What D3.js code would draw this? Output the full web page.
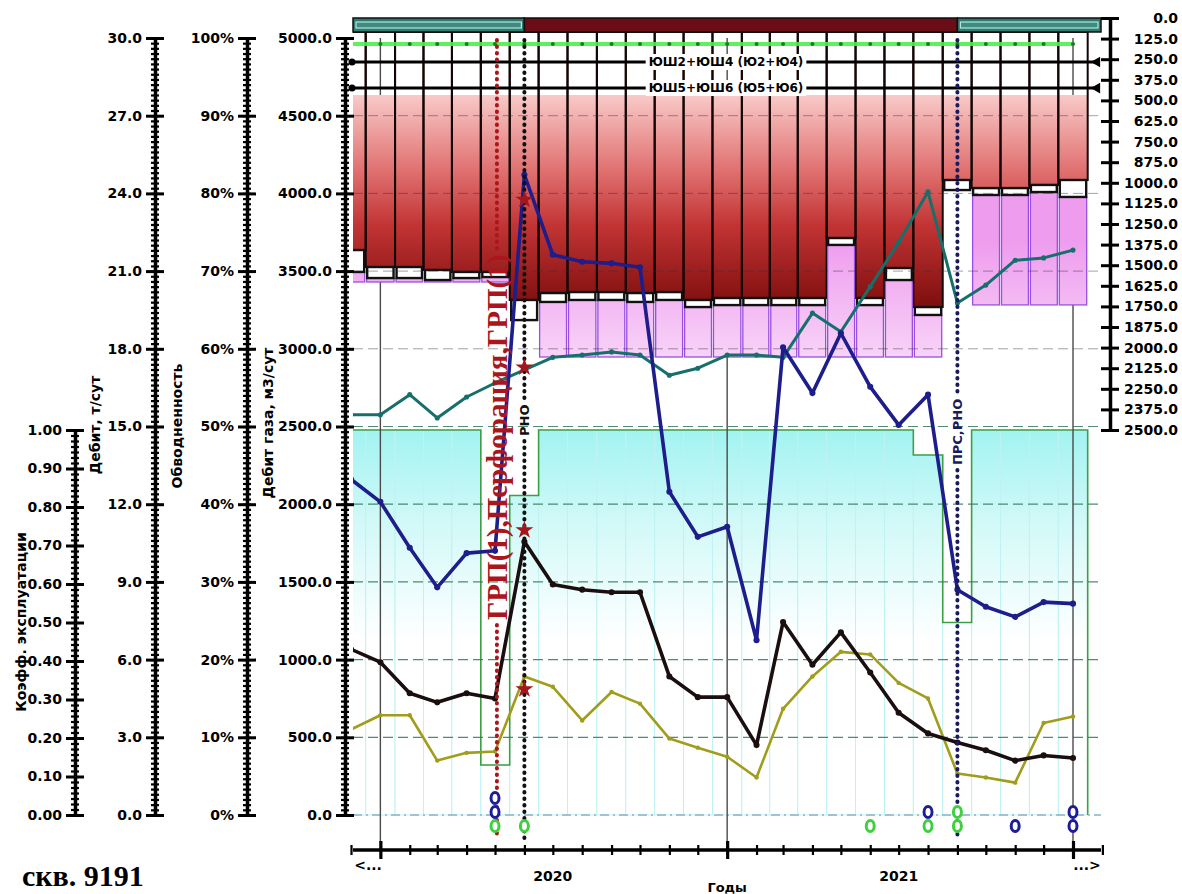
<!DOCTYPE html>
<html>
<head>
<meta charset="utf-8">
<script src="https://d3js.org/d3.v7.min.js"></script>
<style>
  body { margin: 0; background: #fff; }
  svg { display: block; font-family: "DejaVu Sans", sans-serif; }
</style>
</head>
<body>
<div id="chart"></div>
<script>
// ---- data ----
const months = ["2019-12","2020-01","2020-02","2020-03","2020-04","2020-05","2020-06","2020-07","2020-08",
  "2020-09","2020-10","2020-11","2020-12","2021-01","2021-02","2021-03","2021-04","2021-05","2021-06",
  "2021-07","2021-08","2021-09","2021-10","2021-11","2021-12","2022-01"];

const gasRate    = [2160, 2015, 1720, 1465, 1685, 1700, 4120, 3605, 3560, 3550, 3525, 2080, 1790,
                    1855, 1125, 3010, 2715, 3100, 2755, 2510, 2705, 1450, 1340, 1275, 1370, 1360];   // м3/сут
const liquidRate = [6.4, 5.9, 4.7, 4.35, 4.7, 4.5, 10.55, 8.9, 8.7, 8.6, 8.6, 5.35, 4.55,
                    4.55, 2.7, 7.45, 5.8, 7.05, 5.5, 3.95, 3.15, 2.8, 2.5, 2.1, 2.3, 2.2];         // т/сут
const oilRate    = [3.3, 3.85, 3.85, 2.1, 2.4, 2.45, 5.35, 4.95, 3.65, 4.75, 4.3, 2.95, 2.6,
                    2.25, 1.45, 4.1, 5.35, 6.3, 6.2, 5.1, 4.5, 1.6, 1.45, 1.25, 3.55, 3.8];          // т/сут
const waterCut   = [51.5, 51.5, 54.1, 51.1, 53.8, 55.6, 57.3, 58.9, 59.2, 59.6, 59.2, 56.6, 57.5,
                    59.2, 59.2, 58.9, 64.6, 62.2, 68.0, 73.7, 80.2, 65.9, 68.2, 71.4, 71.7, 72.7];   // %
const kExpl      = [1, 1, 1, 1, 1, 0.13, 0.83, 1, 1, 1, 1, 1, 1,
                    1, 1, 1, 1, 1, 1, 1, 0.935, 0.5, 1, 1, 1, 1];

// right (reversed) axis: column levels
const columnTop    = [467, 467, 467, 467, 467, 467, 467, 467, 467, 467, 467, 467, 467,
                      467, 467, 467, 467, 467, 467, 467, 467, 467, 467, 467, 467, 467];
const redBottom    = [1408, 1511, 1511, 1529, 1541, 1541, 1711, 1669, 1663, 1663, 1669, 1663, 1711,
                      1699, 1699, 1699, 1699, 1335, 1699, 1517, 1754, 983, 1032, 1032, 1013, 983];
const boxBottom    = [1541, 1578, 1578, 1590, 1578, 1572, 1833, 1723, 1711, 1711, 1723, 1711, 1754,
                      1742, 1742, 1742, 1742, 1377, 1742, 1590, 1802, 1044, 1074, 1074, 1056, 1086];
const violetBottom = [1602, 1602, 1602, 1602, 1602, 1602, 1833, 2057, 2057, 2057, 2057, 2057, 2057,
                      2057, 2057, 2057, 2057, 2057, 2057, 2057, 2057, 1044, 1741, 1741, 1741, 1741];
const greenLevel   = [158, 158, 158, 158, 158, 158, 158, 158, 158, 158, 158, 158, 158,
                      158, 158, 158, 158, 158, 158, 158, 158, 158, 158, 158, 158, 158];
const levelLines = [{ label: "ЮШ2+ЮШ4 (Ю2+Ю4)", depth: 267 }, { label: "ЮШ5+ЮШ6 (Ю5+Ю6)", depth: 425 }];

const bandSegments = [
  { from: "2019-12-01", to: "2020-06-01", kind: "teal" },
  { from: "2020-06-01", to: "2021-09-01", kind: "red" },
  { from: "2021-09-01", to: "2022-02-01", kind: "teal" }];

const events = [
  { date: "2020-05-03", label: "ГРП(1),Перфорация,ГРП(1)", color: "#aa161b", at: 2430, serif: true },
  { date: "2020-06-01", label: "РНО", color: "#111", at: 2540, serif: false },
  { date: "2021-09-01", label: "ПРС,РНО", color: "#1b1b5c", at: 2465, serif: false }];

const starMonth = "2020-06";
const starValues = { gas: 3960, cut: 57.6, liq: 11.0, oil: 4.86 };

const blueMarks  = [["2020-05", 1], ["2020-05", 2], ["2021-08", 1], ["2021-11", 0], ["2022-01", 1], ["2022-01", 0]];
const greenMarks = [["2020-05", 0], ["2020-06", 0], ["2021-06", 0], ["2021-08", 0], ["2021-09", 1], ["2021-09", 0]];

const gasTicks   = d3.range(0, 5001, 500);
const liqTicks   = d3.range(0, 30.01, 3);
const cutTicks   = d3.range(0, 101, 10);
const kTicks     = d3.range(0, 1.001, 0.1);
const rightTicks = d3.range(0, 2501, 125);
const yearLabels = [{ year: "2020", mid: "2020-07-01" }, { year: "2021", mid: "2021-07-01" }];

// ---- setup ----
const W = 1182, H = 894;
const svg = d3.select("#chart").append("svg").attr("width", W).attr("height", H);
const parseM = d3.utcParse("%Y-%m");
const parseD = d3.utcParse("%Y-%m-%d");
const dates = months.map(parseM);

const plotL = 353, plotR = 1101;
const x = d3.scaleUtc().domain([parseM("2019-12"), parseM("2022-01")]).range([351, 1073]);
const yGas = d3.scaleLinear().domain([0, 5000]).range([815, 38]);
const yLiq = d3.scaleLinear().domain([0, 30]).range([815, 38]);
const yCut = d3.scaleLinear().domain([0, 100]).range([815, 38]);
const yK   = d3.scaleLinear().domain([0, 1]).range([815, 430]);
const yR   = d3.scaleLinear().domain([0, 2500]).range([18, 430]);
const yRow = d3.scaleLinear().domain([0, 2]).range([826, 798]);

const xs = dates.map(d => x(d));
const bounds = xs.map((v, i) => {
  const prev = i > 0 ? xs[i - 1] : v - (xs[1] - xs[0]);
  const next = i < xs.length - 1 ? xs[i + 1] : v + (v - xs[i - 1]);
  return [(prev + v) / 2, (v + next) / 2];
});

const defs = svg.append("defs");
defs.append("clipPath").attr("id", "plotClip").append("rect")
  .attr("x", plotL).attr("y", 10).attr("width", plotR - plotL).attr("height", 840);

function vGrad(id, y1, y2, stops) {
  const g = defs.append("linearGradient").attr("id", id).attr("gradientUnits", "userSpaceOnUse")
    .attr("x1", 0).attr("x2", 0).attr("y1", y1).attr("y2", y2);
  stops.forEach(s => g.append("stop").attr("offset", s[0]).attr("stop-color", s[1]));
}
vGrad("redGrad", 95, 312, [[0, "#f8cac8"], [0.35, "#e07070"], [0.6, "#c23434"], [1, "#7a0b0b"]]);
vGrad("violetGrad", 240, 360, [[0, "#ee9cee"], [1, "#f8d4f8"]]);
vGrad("cyanGrad", 430, 640, [[0, "#a2f3f1"], [0.45, "#d2f9f8"], [1, "#ffffff"]]);

const plot = svg.append("g").attr("clip-path", "url(#plotClip)");

// ---- коэфф. эксплуатации area ----
plot.append("g").selectAll("rect").data(kExpl).join("rect")
  .attr("x", (d, i) => bounds[i][0]).attr("width", (d, i) => bounds[i][1] - bounds[i][0])
  .attr("y", d => yK(d)).attr("height", d => yK(0) - yK(d))
  .attr("fill", "url(#cyanGrad)").attr("stroke", "#bff2f2").attr("stroke-width", 1);

const stepPts = kExpl.map((d, i) => [bounds[i][0], yK(d)]);
stepPts.push([bounds[kExpl.length - 1][1], yK(kExpl[kExpl.length - 1])]);
stepPts.push([bounds[kExpl.length - 1][1], yK(0)]);
plot.append("path").attr("d", d3.line().curve(d3.curveStepAfter)(stepPts))
  .attr("fill", "none").attr("stroke", "#3e9e46").attr("stroke-width", 1.6);

// lower grid
plot.append("g").selectAll("line").data(gasTicks.filter(v => v > 0 && v <= 2500)).join("line")
  .attr("x1", plotL).attr("x2", plotR).attr("y1", d => yGas(d)).attr("y2", d => yGas(d))
  .attr("stroke", "#2f7a5c").attr("stroke-width", 1.2).attr("stroke-dasharray", "10,5").attr("opacity", 0.85);
plot.append("line").attr("x1", plotL).attr("x2", plotR).attr("y1", yGas(0)).attr("y2", yGas(0))
  .attr("stroke", "#86b4c4").attr("stroke-width", 1.3).attr("stroke-dasharray", "9,4,2,4");

// year lines
const yearBounds = [parseM("2020-01"), parseM("2021-01"), parseM("2022-01")];
plot.append("g").selectAll("line").data(yearBounds).join("line")
  .attr("x1", d => x(d)).attr("x2", d => x(d)).attr("y1", 38).attr("y2", 850)
  .attr("stroke", "#4a4a4a").attr("stroke-width", 1.4);

// ---- columns (right axis) ----
const cols = plot.append("g");
cols.selectAll(".red").data(months).join("rect").attr("class", "red")
  .attr("x", (d, i) => bounds[i][0]).attr("width", (d, i) => bounds[i][1] - bounds[i][0])
  .attr("y", (d, i) => yR(columnTop[i])).attr("height", (d, i) => yR(redBottom[i]) - yR(columnTop[i]))
  .attr("fill", "url(#redGrad)");
cols.selectAll(".outline").data(months).join("rect").attr("class", "outline")
  .attr("x", (d, i) => bounds[i][0]).attr("width", (d, i) => bounds[i][1] - bounds[i][0])
  .attr("y", yR(85)).attr("height", (d, i) => yR(redBottom[i]) - yR(85))
  .attr("fill", "none").attr("stroke", "#140404").attr("stroke-width", 2);
cols.selectAll(".violet").data(months).join("rect").attr("class", "violet")
  .attr("x", (d, i) => bounds[i][0] + 1).attr("width", (d, i) => bounds[i][1] - bounds[i][0] - 2)
  .attr("y", (d, i) => yR(boxBottom[i])).attr("height", (d, i) => Math.max(0, yR(violetBottom[i]) - yR(boxBottom[i])))
  .attr("fill", "url(#violetGrad)").attr("stroke", "#9a4fe0").attr("stroke-width", 1.3)
  .attr("display", (d, i) => violetBottom[i] > boxBottom[i] ? null : "none");
cols.selectAll(".box").data(months).join("rect").attr("class", "box")
  .attr("x", (d, i) => bounds[i][0] + 1.5).attr("width", (d, i) => bounds[i][1] - bounds[i][0] - 3)
  .attr("y", (d, i) => yR(redBottom[i])).attr("height", (d, i) => yR(boxBottom[i]) - yR(redBottom[i]))
  .attr("fill", "#fff").attr("stroke", "#111").attr("stroke-width", 2.4);

// upper grid over columns
plot.append("g").selectAll("line").data(gasTicks.filter(v => v > 2500 && v < 5000)).join("line")
  .attr("x1", plotL).attr("x2", plotR).attr("y1", d => yGas(d)).attr("y2", d => yGas(d))
  .attr("stroke", "#333").attr("stroke-width", 1).attr("stroke-dasharray", "10,5").attr("opacity", 0.45);

// top status band
const band = svg.append("g");
bandSegments.forEach(s => {
  const x0 = Math.max(plotL, x(parseD(s.from))), x1 = Math.min(plotR, x(parseD(s.to)));
  band.append("rect").attr("x", x0).attr("y", 18).attr("width", x1 - x0).attr("height", 14)
    .attr("fill", s.kind === "teal" ? "#2f7b70" : "#6a0d16").attr("stroke", "#111").attr("stroke-width", 1.5);
  if (s.kind === "teal") {
    band.append("rect").attr("x", x0 + 3).attr("y", 22).attr("width", x1 - x0 - 6).attr("height", 6)
      .attr("fill", "#3e8c80").attr("stroke", "#b4e6dc").attr("stroke-width", 1.2);
  }
});

// green level line
plot.append("path").datum(greenLevel)
  .attr("d", d3.line().x((d, i) => xs[i]).y(d => yR(d)))
  .attr("fill", "none").attr("stroke", "#4def4d").attr("stroke-width", 4).attr("opacity", 0.9);
plot.append("g").selectAll("circle").data(greenLevel).join("circle")
  .attr("cx", (d, i) => xs[i]).attr("cy", d => yR(d)).attr("r", 2).attr("fill", "#1f7a1f");

// perforation level lines
levelLines.forEach(l => {
  const y = yR(l.depth);
  svg.append("line").attr("x1", 351).attr("x2", 1100).attr("y1", y).attr("y2", y)
    .attr("stroke", "#000").attr("stroke-width", 3);
  svg.append("circle").attr("cx", 352).attr("cy", y).attr("r", 3.5).attr("fill", "#000");
  svg.append("path").attr("d", d3.symbol(d3.symbolTriangle, 50)())
    .attr("transform", `translate(1097,${y}) rotate(-90)`).attr("fill", "#000");
  const t = svg.append("text").attr("x", 726).attr("y", y).attr("text-anchor", "middle")
    .attr("dominant-baseline", "central").attr("font-size", 12).attr("font-weight", "bold").text(l.label);
  const bb = t.node().getBBox();
  svg.insert("rect", () => t.node()).attr("x", bb.x - 3).attr("y", bb.y - 1)
    .attr("width", bb.width + 6).attr("height", bb.height + 2).attr("fill", "#fff");
});

// ---- events ----
events.forEach(ev => {
  const ex = x(parseD(ev.date));
  const cy = yGas(ev.at);
  const t = svg.append("text").attr("transform", `translate(${ex},${cy}) rotate(-90)`)
    .attr("text-anchor", "middle").attr("dominant-baseline", "central")
    .attr("font-family", ev.serif ? "Liberation Serif, serif" : "DejaVu Sans, sans-serif")
    .attr("font-size", ev.serif ? 29 : 13).attr("font-weight", "bold").attr("fill", ev.color).text(ev.label);
  const half = t.node().getComputedTextLength() / 2 + 5;
  [[40, cy - half], [cy + half, 838]].forEach(seg => {
    svg.insert("line", () => t.node()).attr("x1", ex).attr("x2", ex).attr("y1", seg[0]).attr("y2", seg[1])
      .attr("stroke", ev.color).attr("stroke-width", 4).attr("stroke-linecap", "round")
      .attr("stroke-dasharray", "0.5,6");
  });
});

// ---- series ----
function series(vals, yScale, color, width) {
  const g = plot.append("g");
  g.append("path").datum(vals)
    .attr("d", d3.line().x((d, i) => xs[i]).y(d => yScale(d)))
    .attr("fill", "none").attr("stroke", color).attr("stroke-width", width).attr("stroke-linejoin", "round");
  g.selectAll("circle").data(vals).join("circle")
    .attr("cx", (d, i) => xs[i]).attr("cy", d => yScale(d)).attr("r", width * 0.85).attr("fill", color);
}
series(waterCut, yCut, "#176f6c", 3);
series(oilRate, yLiq, "#a19d1c", 2.6);
series(liquidRate, yLiq, "#1a0e0e", 3.6);
series(gasRate, yGas, "#1d1d8c", 3.6);

const sx = x(parseM(starMonth));
[[starValues.gas, yGas], [starValues.cut, yCut], [starValues.liq, yLiq], [starValues.oil, yLiq]].forEach(s => {
  svg.append("path").attr("d", d3.symbol(d3.symbolStar, 100)())
    .attr("transform", `translate(${sx},${s[1](s[0])})`).attr("fill", "#a3171c");
});

// event markers at the bottom
[[blueMarks, "#1d1d9a"], [greenMarks, "#3fcf3f"]].forEach(m => {
  svg.append("g").selectAll("ellipse").data(m[0]).join("ellipse")
    .attr("cx", d => x(parseM(d[0]))).attr("cy", d => yRow(d[1]))
    .attr("rx", 4).attr("ry", 5.5).attr("fill", "#fff").attr("stroke", m[1]).attr("stroke-width", 3);
});

// ---- axes ----
function vAxis(scale, xPos, majors, minorStep, fmt, right) {
  const g = svg.append("g").attr("transform", `translate(${xPos},0)`);
  const dom = scale.domain();
  const minors = d3.range(dom[0], dom[1] + minorStep / 2, minorStep);
  const mk = right ? d3.axisRight : d3.axisLeft;
  if (minorStep) {
    g.append("g").call(mk(scale).tickValues(minors).tickFormat("").tickSize(0).tickSizeOuter(0))
      .call(s => s.selectAll(".tick line").attr("x1", -4).attr("x2", 4).attr("stroke", "#000").attr("stroke-width", 2.2));
  }
  const mg = g.append("g").call(mk(scale).tickValues(majors).tickFormat(fmt).tickSize(0).tickSizeOuter(0).tickPadding(13))
    .attr("font-family", "DejaVu Sans, sans-serif").attr("font-size", 14).attr("font-weight", "bold");
  mg.select(".domain").attr("stroke", "#000").attr("stroke-width", 3.5);
  mg.selectAll(".tick line").attr("x1", -9).attr("x2", 9).attr("stroke", "#000").attr("stroke-width", 3);
  mg.selectAll(".tick text").attr("fill", "#000");
  if (right) mg.selectAll(".tick text").attr("text-anchor", "end").attr("x", 68);
  return g;
}
vAxis(yK, 75, kTicks, 1 / 70, d3.format(".2f"));
vAxis(yLiq, 155, liqTicks, 0.2, d3.format(".1f"));
vAxis(yCut, 247, cutTicks, 10 / 15, d => d + "%");
vAxis(yGas, 345, gasTicks, 500 / 15, d3.format(".1f"));
vAxis(yR, 1110, rightTicks, 0, d3.format(".1f"), true);

// x axis
const xg = svg.append("g").attr("transform", "translate(0,850)");
const xTickDates = d3.utcMonth.range(parseM("2019-12"), parseM("2022-03"));
xg.call(d3.axisBottom(x).tickValues(xTickDates).tickFormat("").tickSize(0).tickSizeOuter(0));
xg.select(".domain").remove();
xg.append("line").attr("x1", plotL).attr("x2", plotR).attr("stroke", "#000").attr("stroke-width", 3.5);
xg.selectAll(".tick line").attr("y1", d => d.getUTCMonth() === 0 ? -9 : -5).attr("y2", d => d.getUTCMonth() === 0 ? 9 : 5)
  .attr("stroke", "#000").attr("stroke-width", d => d.getUTCMonth() === 0 ? 3.2 : 2.2);
const xLabels = svg.append("g").attr("font-size", 14).attr("font-weight", "bold").attr("fill", "#000");
xLabels.selectAll("text.yl").data(yearLabels).join("text").attr("class", "yl")
  .attr("x", d => x(parseD(d.mid))).attr("y", 881).attr("text-anchor", "middle").text(d => d.year);
xLabels.append("text").attr("x", 368).attr("y", 870).attr("text-anchor", "middle").text("<...");
xLabels.append("text").attr("x", 1087).attr("y", 870).attr("text-anchor", "middle").text("...>");
xLabels.append("text").attr("x", x(parseM("2021-01"))).attr("y", 892).attr("text-anchor", "middle")
  .attr("font-size", 13).text("Годы");

// axis titles
function vTitle(cx, cy, txt) {
  svg.append("text").attr("transform", `translate(${cx},${cy}) rotate(-90)`)
    .attr("text-anchor", "middle").attr("dominant-baseline", "central")
    .attr("font-size", 14).attr("font-weight", "bold").text(txt);
}
vTitle(21, 622, "Коэфф. эксплуатации");
vTitle(95, 425, "Дебит, т/сут");
vTitle(177, 426, "Обводненность");
vTitle(268, 423, "Дебит газа, м3/сут");

svg.append("text").attr("x", 22).attr("y", 886)
  .attr("font-family", "Liberation Serif, serif").attr("font-size", 30).attr("font-weight", "bold")
  .text("скв. 9191");
</script>
</body>
</html>
